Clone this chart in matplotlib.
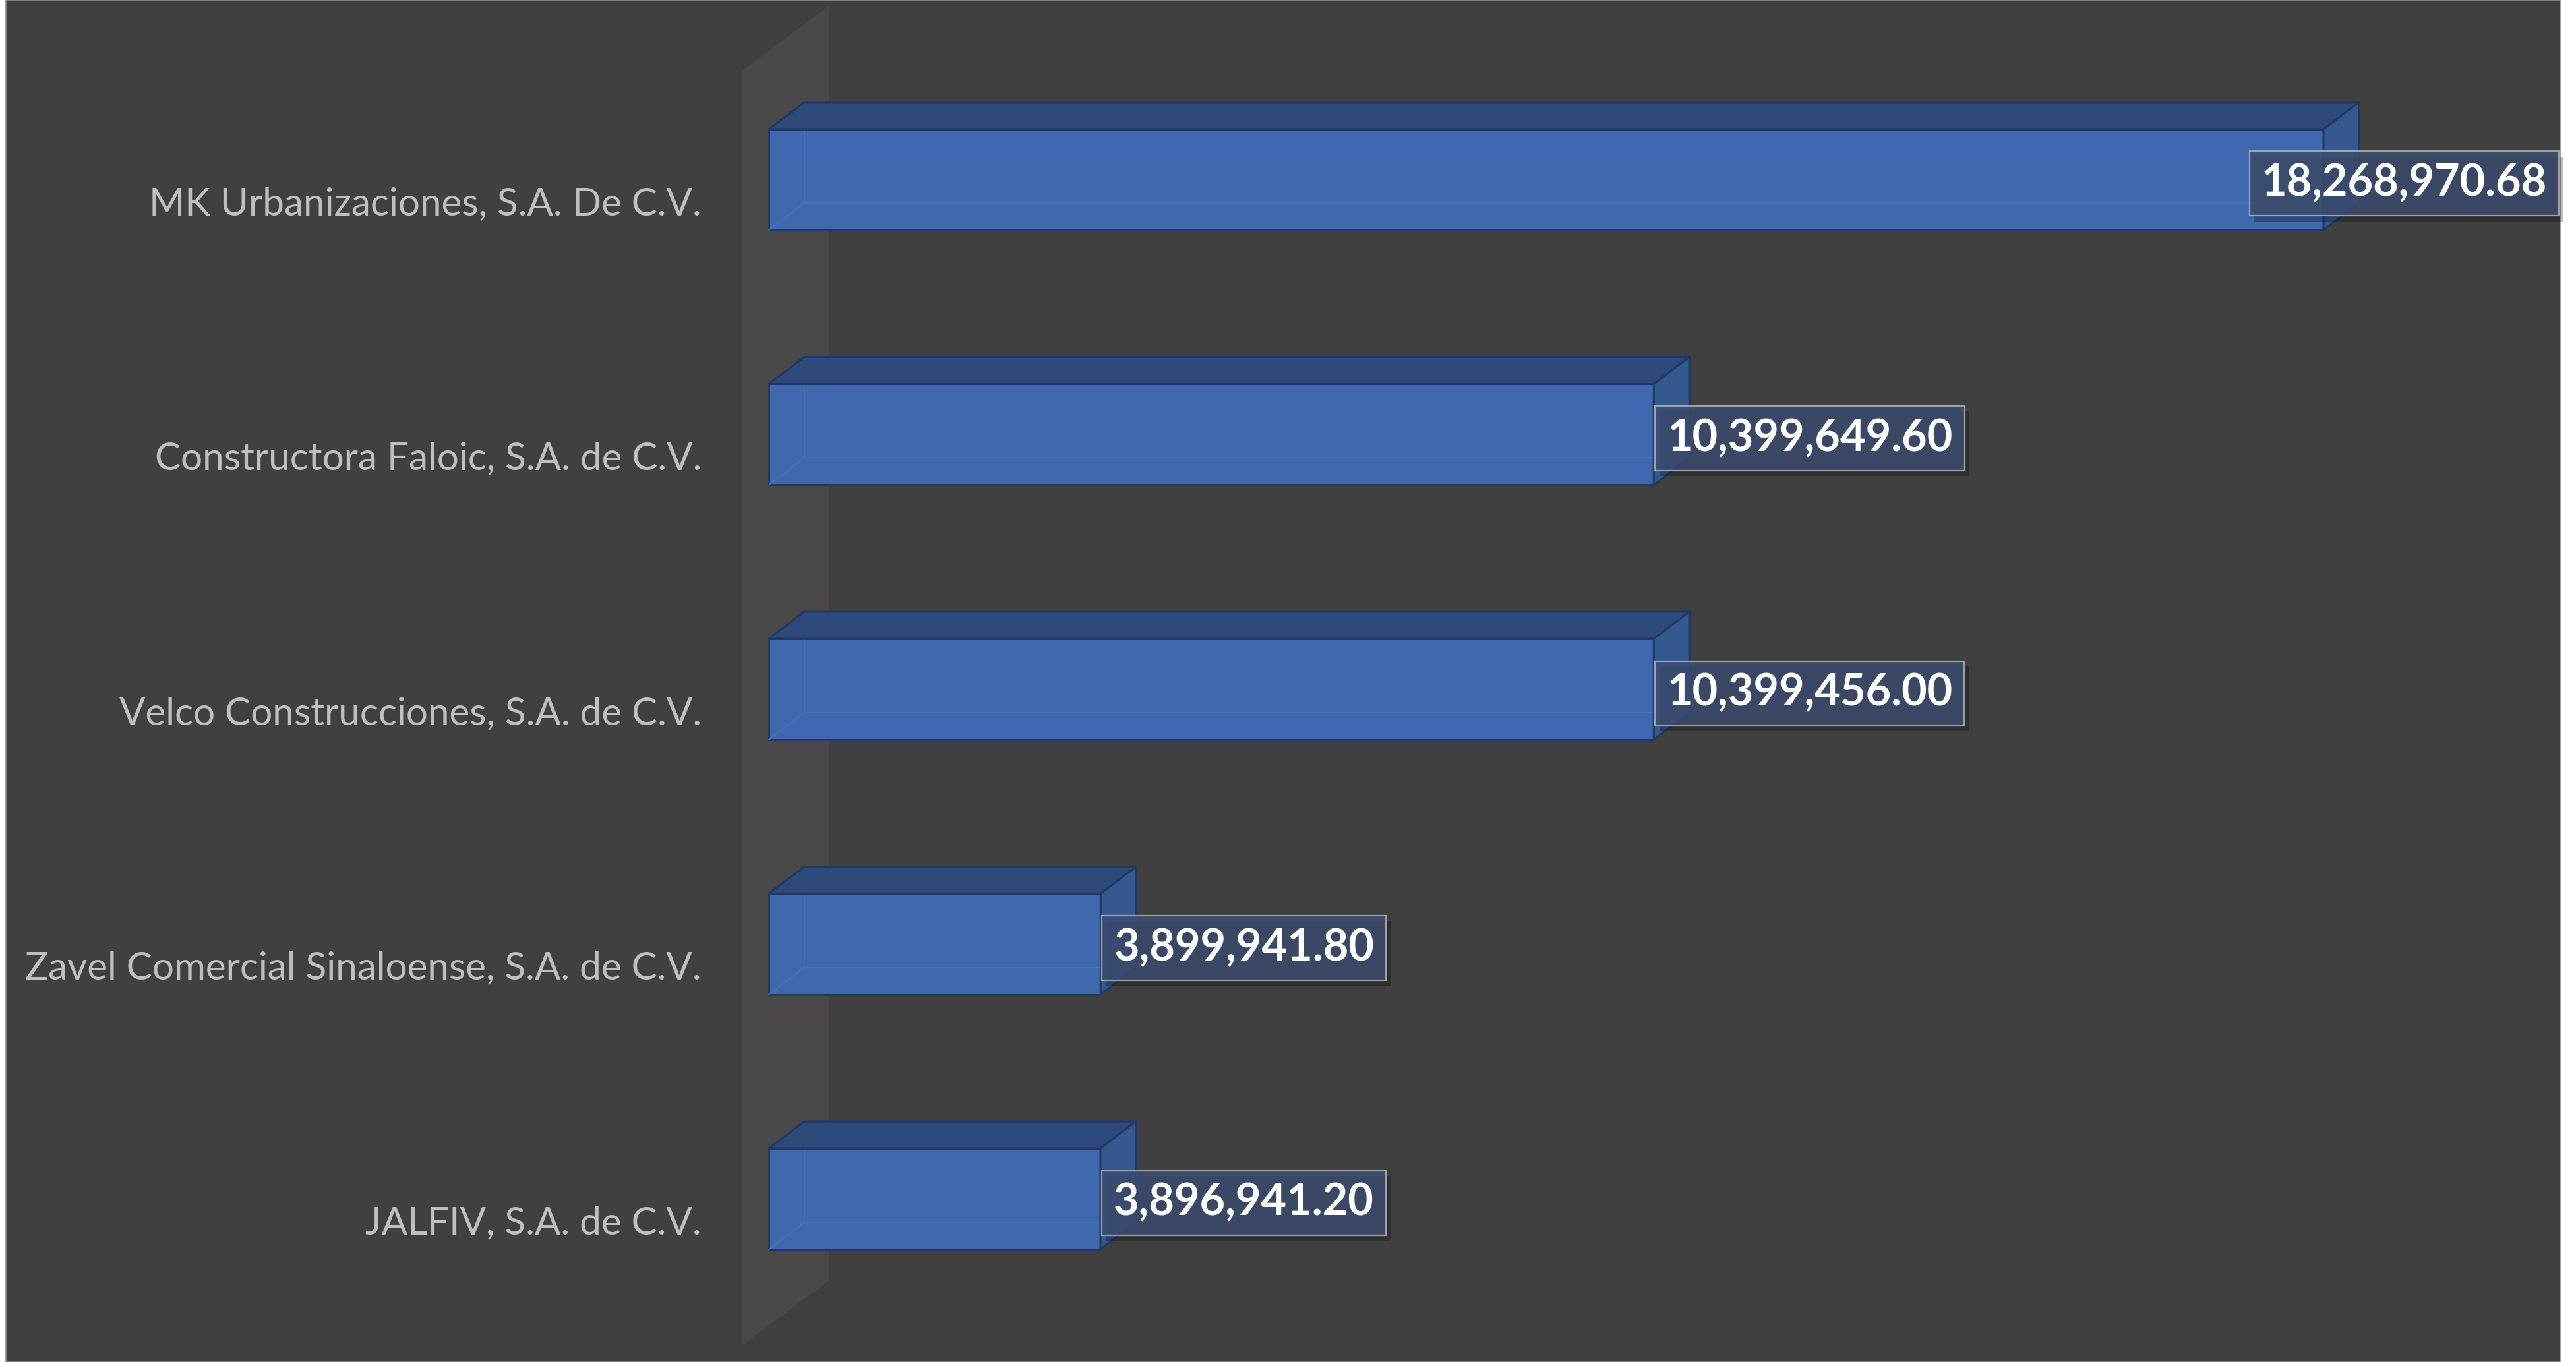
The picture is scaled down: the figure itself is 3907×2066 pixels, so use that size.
import matplotlib
matplotlib.use("Agg")
import matplotlib.pyplot as plt
import matplotlib.patheffects as pe
from matplotlib.patches import Polygon, Rectangle

# data
categories = [
    "MK Urbanizaciones, S.A. De C.V.",
    "Constructora Faloic, S.A. de C.V.",
    "Velco Construcciones, S.A. de C.V.",
    "Zavel Comercial Sinaloense, S.A. de C.V.",
    "JALFIV, S.A. de C.V.",
]
values = [18268970.68, 10399649.60, 10399456.00, 3899941.80, 3896941.20]

W, H = 3907, 2066
BG = "#404040"
FRONT = "#416ab2"
TOP = "#2e4a7a"
SIDE = "#35588f"
EDGE = "#1f3864"
RIGHT_EDGE = 3882

fig = plt.figure(figsize=(W / 100, H / 100), dpi=100, facecolor="white")

# dark chart area with a thin grey border
fig.patches.append(Rectangle((9 / W, 0), (RIGHT_EDGE + 1 - 9) / W, 1, transform=fig.transFigure,
                             facecolor=BG, edgecolor="#8c8c8c", linewidth=1.2, zorder=-2))

# back wall (pseudo-3D)
wall = [(1126, 107), (1258, 8), (1258, 1942), (1126, 2040)]
fig.patches.append(Polygon([(x / W, 1 - y / H) for x, y in wall], closed=True,
                           transform=fig.transFigure, facecolor="#4a4848",
                           edgecolor="none", zorder=-1))

ax = fig.add_axes([0, 0, 1, 1])
ax.set_zorder(1)
ax.set_facecolor("none")
px_per_unit = 2358 / values[0]          # horizontal scale
x0 = 1166                               # pixel of value 0
ax.set_xlim(-x0 / px_per_unit, (W - x0) / px_per_unit)
row = 386.5
ax.set_ylim((H - 272.5) / row, -272.5 / row)
ax.axis("off")

h = 153 / row              # front face height in row units
dx = 54 / px_per_unit      # depth offset
dy = 41 / row

ys = list(range(len(categories)))
ax.barh(ys, values, height=h, left=0, color=FRONT, edgecolor=EDGE, linewidth=2.2,
        alpha=0.97, zorder=3)

labels = []
for y, v, name in zip(ys, values, categories):
    top, bot = y - h / 2, y + h / 2
    ax.add_patch(Polygon([(0, top), (v, top), (v + dx, top - dy), (dx, top - dy)],
                         closed=True, facecolor=TOP, edgecolor=EDGE, linewidth=2.2, zorder=4))
    ax.add_patch(Polygon([(v, top), (v + dx, top - dy), (v + dx, bot - dy), (v, bot)],
                         closed=True, facecolor=SIDE, edgecolor=EDGE, linewidth=2.2, zorder=4))
    # faint hidden back edges seen through the translucent bar
    ax.plot([dx, dx, v], [top - dy, bot - dy, bot - dy], color="#4870b5", lw=1.3, zorder=3.5)
    ax.plot([0, dx], [bot, bot - dy], color="#4870b5", lw=1.3, zorder=3.5)

    # category label
    ax.text(-102 / px_per_unit, y + 37 / row, name, ha="right", va="center",
            fontsize=42, family="Lato", color="#bfbfbf", zorder=5)

    # value label with box
    t = ax.annotate(f"{v:,.2f}", xy=(v, y), xytext=(20, -6), textcoords="offset pixels",
                    ha="left", va="center", fontsize=48, family="Lato", fontweight="bold",
                    color="white", zorder=6,
                    bbox=dict(boxstyle="square,pad=0.27", facecolor="#3c4d6f", alpha=0.85,
                              edgecolor="#b0b4bb", linewidth=1.6))
    t.get_bbox_patch().set_path_effects([
        pe.SimplePatchShadow(offset=(5, -6), shadow_rgbFace="black", alpha=0.25), pe.Normal()])
    labels.append(t)

# keep labels inside the chart area: shift left those that overflow
fig.canvas.draw()
renderer = fig.canvas.get_renderer()
for t in labels:
    ext = t.get_bbox_patch().get_window_extent(renderer)
    if ext.x1 > RIGHT_EDGE:
        t.set_position((20 - (ext.x1 - RIGHT_EDGE) - 1, -6))

fig.savefig("out.png", dpi=100, facecolor="white")
